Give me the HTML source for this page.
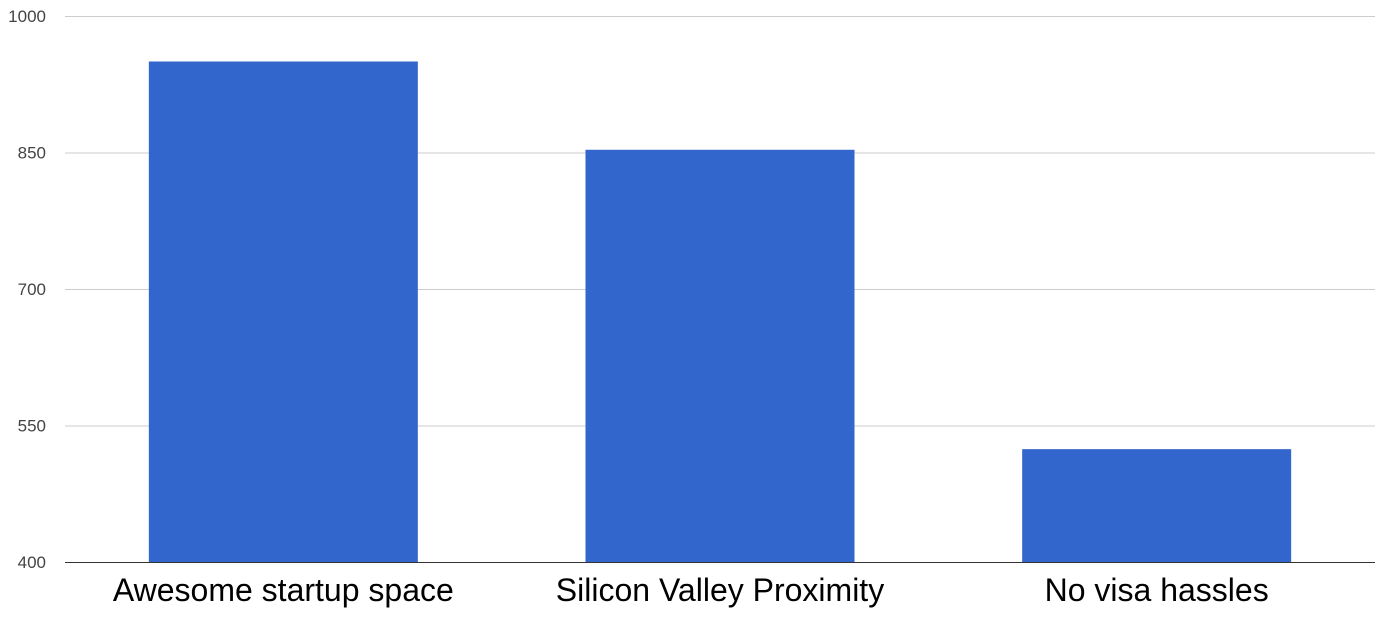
<!DOCTYPE html>
<html><head><meta charset="utf-8"><style>
html,body{margin:0;padding:0;background:#fff;}
svg{display:block;font-family:"Liberation Sans",Arial,sans-serif;}
</style></head><body>
<svg id="chart" width="1385" height="628" viewBox="0 0 1385 628"></svg>
<script>
const categories = ["Awesome startup space", "Silicon Valley Proximity", "No visa hassles"];
const values = [950, 853, 524];
const ticks = [400, 550, 700, 850, 1000];
const NS = "http://www.w3.org/2000/svg";
const chartSvg = document.getElementById('chart');
const plotLeft = 65, plotRight = 1375, plotTop = 16, plotBottom = 562;
const yMin = 400, yMax = 1000;
const yScale = v => plotBottom - (v - yMin) / (yMax - yMin) * (plotBottom - plotTop);
const band = (plotRight - plotLeft) / categories.length;
const barW = 269;
const xc = i => plotLeft + band * (i + 0.5);
function mk(tag, attrs){ const e = document.createElementNS(NS, tag); for (const k in attrs) e.setAttribute(k, attrs[k]); chartSvg.appendChild(e); return e; }
ticks.forEach(t => {
  if (t !== yMin) {
    const g = mk('line', {x1:plotLeft, x2:plotRight, y1:yScale(t)+0.5, y2:yScale(t)+0.5, stroke:'#cccccc', 'stroke-width':1});
    
    
  }
  const l = mk('text', {x:46, y:yScale(t)+6, 'text-anchor':'end', 'font-size':17, fill:'#444'});
  l.textContent = t;
  
  
});
categories.forEach((c, i) => {
  const b = mk('rect', {x:xc(i)-barW/2, y:yScale(values[i]), width:barW, height:plotBottom - yScale(values[i]), fill:'#3366cc'});
  
  
  const t = mk('text', {x:xc(i), y:601, 'text-anchor':'middle', 'font-size':32, fill:'#000'});
  t.textContent = c;
  
  
});
const base = mk('line', {x1:plotLeft, x2:plotRight, y1:plotBottom+0.5, y2:plotBottom+0.5, stroke:'#333', 'stroke-width':1});


</script>
</body></html>
